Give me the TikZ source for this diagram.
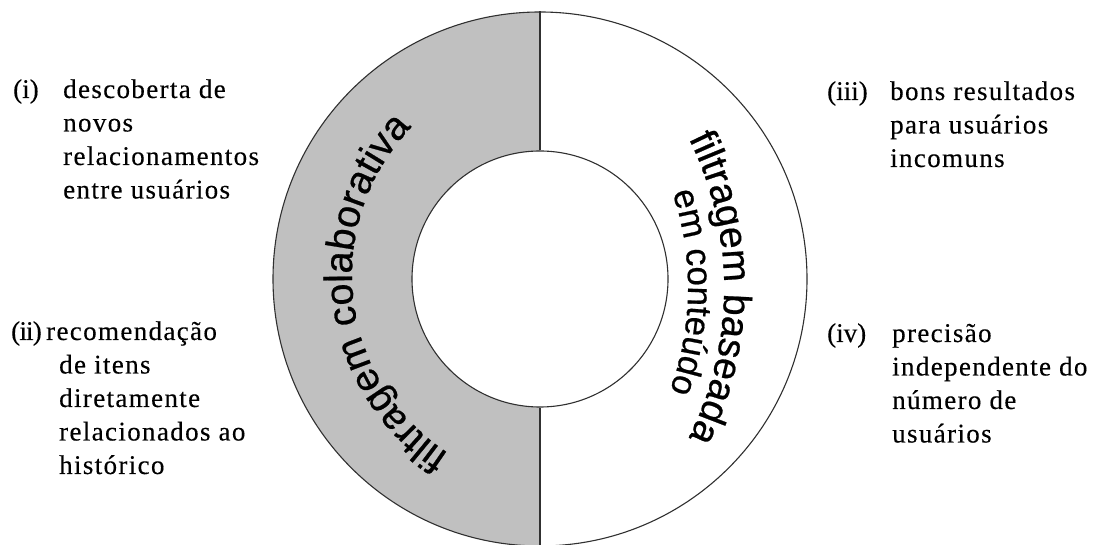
\documentclass[tikz,border=0pt]{standalone}
\usepackage{fontspec}
\usetikzlibrary{decorations.text}
\newfontfamily\ringfont{Liberation Sans}[FakeBold=0.6]
\newfontfamily\lblfont{Liberation Serif}[LetterSpace=5, FakeBold=0.3]
\definecolor{ringgray}{HTML}{C0C0C0}
\definecolor{edge}{HTML}{303030}

\begin{document}
\begin{tikzpicture}[x=1pt,y=1pt,
  ringline/.style={draw=edge, line width=1.1pt},
  lbl/.style={font=\lblfont\fontsize{27}{33.5}\selectfont, inner sep=0pt, anchor=base west, align=left},
  numlbl/.style={lbl, font=\lblfont\fontsize{27}{33.5}\selectfont\addfontfeature{LetterSpace=#1}},
  arctext/.style 2 args={decorate, decoration={text along path, text align=center,
      text={|\ringfont\fontsize{#1}{#1}\selectfont|#2}}}
  ]
\useasboundingbox (0,0) rectangle (1099,545);
\fill[white] (0,0) rectangle (1099,545);
\coordinate (c) at (540,266);

% shaded left half of the ring
\fill[ringgray] (c) ++(90:267) arc[start angle=90, end angle=270, radius=267]
  -- ++(0,139) arc[start angle=270, end angle=90, radius=128] -- cycle;

% ring outlines and dividing strokes
\node[circle, ringline, minimum size=534pt, inner sep=0pt] (outer) at (c) {};
\node[circle, ringline, minimum size=256pt, inner sep=0pt] (inner) at (c) {};
\draw[ringline] (outer.north) -- (inner.north);
\draw[ringline] (inner.south) -- (outer.south);

% curved headings
\path[arctext={39.5}{filtragem colaborativa}] (565,270) ++(266.5:213)
  arc[start angle=266.5, end angle=106.5, radius=213];
\path[arctext={39}{filtragem baseada}] (390,257) ++(60:334)
  arc[start angle=60, end angle=-60, radius=334];
\path[arctext={35}{em conteúdo}] (390,257) ++(59.2:298)
  arc[start angle=59.2, end angle=-60.8, radius=298];

% side notes
\node[numlbl=0] (n1) at (13,447) {(i)};
\node[lbl] (t1) at (63,346.5) {descoberta de\\novos\\relacionamentos\\entre usuários};
\node[numlbl=-3] (n2) at (11,205) {(ii)};
\node[lbl] (t2) at (59,71) {\hspace*{-13pt}recomendação\\de itens\\diretamente\\relacionados ao\\histórico};
\node[numlbl=0] (n3) at (827,445) {(iii)};
\node[lbl] (t3) at (890,378) {bons resultados\\para usuários\\incomuns};
\node[numlbl=0] (n4) at (827,203) {(iv)};
\node[lbl] (t4) at (892,102.5) {precisão\\independente do\\número de\\usuários};
\end{tikzpicture}
\end{document}
